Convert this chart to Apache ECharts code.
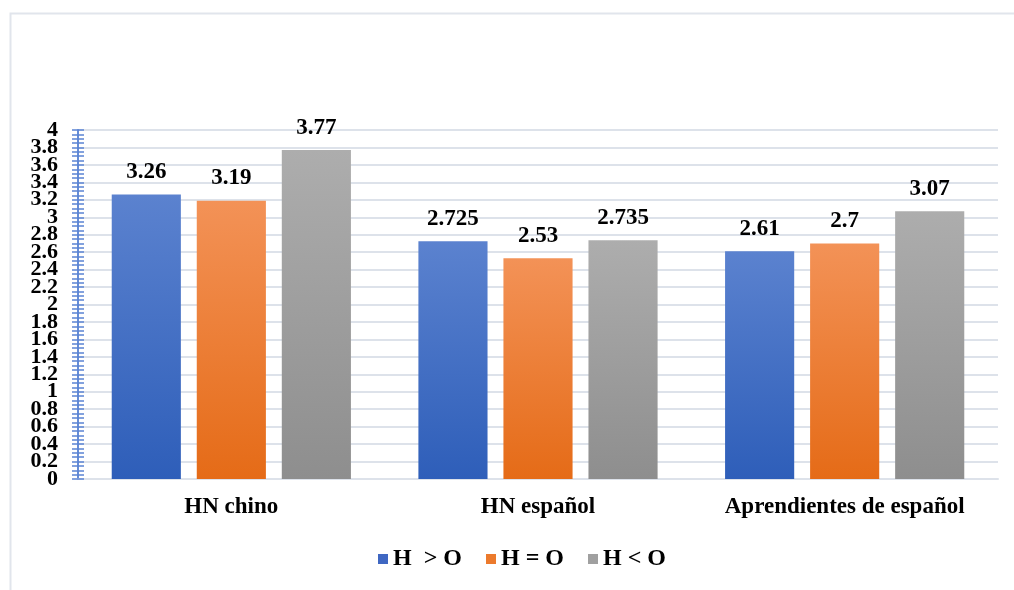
<!DOCTYPE html>
<html>
<head>
<meta charset="utf-8">
<script src="https://cdn.jsdelivr.net/npm/echarts@6/dist/echarts.min.js"></script>
<style>
  html, body { margin: 0; padding: 0; background: #ffffff; }
  #chart { width: 1014px; height: 590px; }
</style>
</head>
<body>
<div id="chart"></div>
<script>
// Groups along the x axis
const categories = ['HN chino', 'HN español', 'Aprendientes de español'];

// Series names and their values per group
const seriesNames = ['H  > O', 'H = O', 'H < O'];
const valuesHgtO = [3.26, 2.725, 2.61];
const valuesHeqO = [3.19, 2.53, 2.7];
const valuesHltO = [3.77, 2.735, 3.07];

// Value axis range
const yMin = 0;
const yMax = 4;
const yStep = 0.2;

const serif = '"Liberation Serif", "Times New Roman", serif';

function grad(top, bottom) {
  return new echarts.graphic.LinearGradient(0, 0, 0, 1, [
    { offset: 0, color: top },
    { offset: 1, color: bottom }
  ]);
}

const palette = [
  { legend: '#3f67c2', fill: grad('#5b82cf', '#2e5eb9') },
  { legend: '#ec7a2c', fill: grad('#f39257', '#e56b17') },
  { legend: '#a0a0a0', fill: grad('#adadad', '#8e8e8e') }
];

const seriesValues = [valuesHgtO, valuesHeqO, valuesHltO];

const chart = echarts.init(document.getElementById('chart'), null, { renderer: 'canvas' });

const yAxisBase = {
  type: 'value',
  position: 'left',
  min: yMin,
  max: yMax,
  interval: yStep
};

const tickColor = '#5b84d4';
const yLabelStyle = {
  interval: 0,
  margin: 20,
  fontFamily: serif,
  fontWeight: 'bold',
  fontSize: 22,
  color: '#000000',
  lineHeight: 8,
  hideOverlap: false
};

chart.setOption({
  backgroundColor: '#ffffff',
  animation: false,
  graphic: [{
    type: 'rect',
    left: 8,
    top: 11,
    shape: { width: 1030, height: 600 },
    style: { fill: 'none', stroke: '#e1e5ec', lineWidth: 2 },
    silent: true,
    z: -10
  }],
  grid: { left: 78, right: 16, top: 130, bottom: 111, containLabel: false },
  legend: {
    bottom: 14,
    left: 373,
    itemWidth: 10,
    itemHeight: 10,
    itemGap: 24,
    icon: 'rect',
    textStyle: { fontFamily: serif, fontWeight: 'bold', fontSize: 24, color: '#000000' },
    data: seriesNames.map((n, i) => ({ name: n, itemStyle: { color: palette[i].legend } }))
  },
  xAxis: {
    type: 'category',
    data: categories,
    axisLine: { show: true, lineStyle: { color: '#dde2ea', width: 2 } },
    axisTick: { show: false },
    axisLabel: {
      interval: 0,
      hideOverlap: false,
      margin: 17,
      fontFamily: serif,
      fontWeight: 'bold',
      fontSize: 23,
      color: '#000000'
    }
  },
  yAxis: [
    // main axis: ticks outward, inner labels 0.2 … 3.8, grid lines
    Object.assign({}, yAxisBase, {
      axisLine: { show: true, lineStyle: { color: tickColor, width: 1.5 } },
      axisTick: { show: true, inside: false, length: 6, lineStyle: { color: tickColor, width: 1.5 } },
      minorTick: { show: true, splitNumber: 4, length: 6, lineStyle: { color: tickColor, width: 1.5 } },
      splitLine: { show: true, lineStyle: { color: '#dde2ea', width: 2 } },
      axisLabel: Object.assign({}, yLabelStyle, { showMinLabel: false, showMaxLabel: false })
    }),
    // twin axis: ticks inward, end labels 0 and 4
    Object.assign({}, yAxisBase, {
      axisLine: { show: true, lineStyle: { color: tickColor, width: 1.5 } },
      axisTick: { show: true, inside: true, length: 6, lineStyle: { color: tickColor, width: 1.5 } },
      minorTick: { show: true, splitNumber: 4, length: 6, lineStyle: { color: tickColor, width: 1.5 } },
      splitLine: { show: false },
      axisLabel: Object.assign({}, yLabelStyle, {
        showMinLabel: true,
        showMaxLabel: true,
        formatter: (v) => (v === yMin || v === yMax ? String(v) : '')
      })
    })
  ],
  series: seriesNames.map((name, i) => ({
    name: name,
    type: 'bar',
    yAxisIndex: 0,
    data: seriesValues[i],
    barGap: '23%',
    barCategoryGap: '22%',
    itemStyle: { color: palette[i].fill },
    label: {
      show: true,
      position: 'top',
      distance: 11,
      fontFamily: serif,
      fontWeight: 'bold',
      fontSize: 23,
      color: '#000000'
    }
  }))
});
</script>
</body>
</html>
